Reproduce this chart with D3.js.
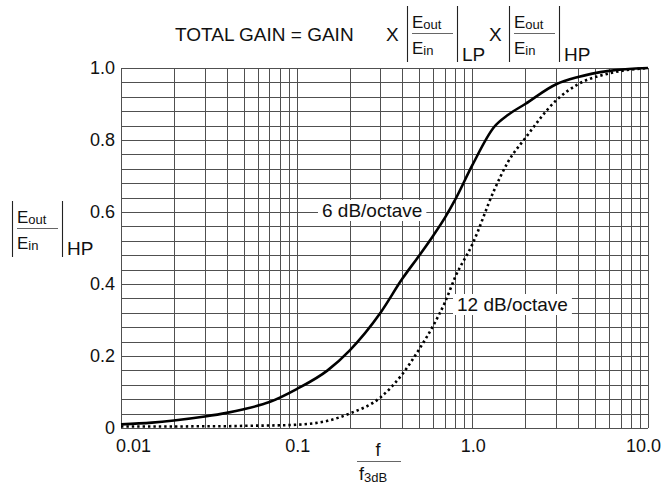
<!DOCTYPE html>
<html lang="en">
<head>
  <meta charset="UTF-8">
  <title>Total gain, high-pass response</title>
  <script src="https://d3js.org/d3.v7.min.js"></script>
  <style>
    body { margin: 0; background: #fff; }
    svg { display: block; font-family: "Liberation Sans", Arial, sans-serif; fill: #111; }
    .grid line { stroke: #505050; stroke-width: 1; shape-rendering: crispEdges; }
    .tick-label { font-size: 18px; }
    .note { font-size: 19px; }
  </style>
</head>
<body>
<svg width="672" height="487"></svg>
<script>
  // values
  const freq   = [0.01, 0.015, 0.02, 0.03, 0.04, 0.05, 0.07, 0.1, 0.15, 0.2, 0.3, 0.4, 0.5, 0.6, 0.7, 0.8, 1.0, 1.33, 1.6, 2, 3, 4, 6, 10];
  const gain6  = [0.01, 0.015, 0.021, 0.032, 0.042, 0.052, 0.072, 0.108, 0.16, 0.215, 0.32, 0.415, 0.48, 0.535, 0.585, 0.635, 0.73, 0.836, 0.87, 0.90, 0.955, 0.975, 0.992, 1.0];
  const gain12 = [0.004, 0.004, 0.004, 0.005, 0.005, 0.006, 0.007, 0.009, 0.02, 0.04, 0.085, 0.15, 0.22, 0.285, 0.35, 0.42, 0.51, 0.66, 0.74, 0.805, 0.91, 0.955, 0.985, 1.0];

  const xTicks = [0.01, 0.1, 1, 10];
  const xTickLabels = ["0.01", "0.1", "1.0", "10.0"];
  const yTicks = [0, 0.2, 0.4, 0.6, 0.8, 1.0];
  const yTickLabels = ["0", "0.2", "0.4", "0.6", "0.8", "1.0"];

  const margin = {top: 68, right: 24, bottom: 59, left: 121};
  const width = 672, height = 487;
  const w = width - margin.left - margin.right;
  const h = height - margin.top - margin.bottom;

  const svg = d3.select("svg");
  const g = svg.append("g").attr("transform", `translate(${margin.left},${margin.top})`);

  const x = d3.scaleLog().domain([0.01, 10]).range([0, w]);
  const y = d3.scaleLinear().domain([0, 1]).range([h, 0]);

  // grid: 1..9 in every decade, and every 0.04 on y
  const xGrid = [];
  [0.01, 0.1, 1].forEach(dec => d3.range(1, 10).forEach(k => xGrid.push(k * dec)));
  xGrid.push(10);
  const yGrid = d3.range(0, 26).map(i => i * 0.04);

  const grid = g.append("g").attr("class", "grid");
  grid.selectAll(".vx").data(xGrid).join("line")
    .attr("x1", d => Math.round(x(d)) + 0.5).attr("x2", d => Math.round(x(d)) + 0.5)
    .attr("y1", 0).attr("y2", h);
  grid.selectAll(".hy").data(yGrid).join("line")
    .attr("y1", d => Math.round(y(d)) + 0.5).attr("y2", d => Math.round(y(d)) + 0.5)
    .attr("x1", 0).attr("x2", w);

  // tick labels (end ones pulled in to stay near the frame)
  const last = xTicks.length - 1;
  g.selectAll(".xl").data(xTicks).join("text")
    .attr("class", "tick-label")
    .attr("x", (d, i) => i === 0 ? x(d) - 5 : i === last ? x(d) + 13 : x(d) + 1)
    .attr("y", h + 24)
    .attr("text-anchor", (d, i) => i === 0 ? "start" : i === last ? "end" : "middle")
    .text((d, i) => xTickLabels[i]);
  g.selectAll(".yl").data(yTicks).join("text")
    .attr("class", "tick-label")
    .attr("x", -6).attr("y", d => y(d) + 6)
    .attr("text-anchor", "end")
    .text((d, i) => yTickLabels[i]);

  // curves
  const line = d3.line().x(d => x(d[0])).y(d => y(d[1])).curve(d3.curveMonotoneX);
  g.append("path")
    .datum(freq.map((f, i) => [f, gain12[i]]))
    .attr("d", line).attr("fill", "none")
    .attr("stroke", "#000").attr("stroke-width", 2.6)
    .attr("stroke-dasharray", "2.4,3");
  g.append("path")
    .datum(freq.map((f, i) => [f, gain6[i]]))
    .attr("d", line).attr("fill", "none")
    .attr("stroke", "#000").attr("stroke-width", 2.6);

  // curve notes with white box behind
  function note(txt, cx, cy) {
    const n = svg.append("g");
    const r = n.append("rect").attr("fill", "#fff");
    const t = n.append("text").attr("class", "note")
      .attr("x", cx).attr("y", cy).text(txt);
    const b = t.node().getBBox();
    r.attr("x", b.x - 4).attr("y", b.y)
      .attr("width", b.width + 8).attr("height", b.height);
  }
  note("6 dB/octave", 322, 217);
  note("12 dB/octave", 457, 311);

  // |Eout/Ein| fraction with a subscript after it
  function fraction(x0, yMid, sub, subDy) {
    const f = svg.append("g").attr("transform", `translate(${x0},${yMid})`);
    f.append("line").attr("x1", 0.5).attr("x2", 0.5).attr("y1", -27).attr("y2", 29)
      .attr("stroke", "#222").attr("stroke-width", 1.1);
    f.append("line").attr("x1", 50.5).attr("x2", 50.5).attr("y1", -27).attr("y2", 29)
      .attr("stroke", "#222").attr("stroke-width", 1.1);
    f.append("line").attr("x1", 5).attr("x2", 46).attr("y1", 0.5).attr("y2", 0.5)
      .attr("stroke", "#666").attr("stroke-width", 1.1);
    const top = f.append("text").attr("x", 5).attr("y", -5).attr("font-size", 17);
    top.append("tspan").text("E");
    top.append("tspan").attr("font-size", 13).attr("dy", 1).text("out");
    const bot = f.append("text").attr("x", 5).attr("y", 21).attr("font-size", 17);
    bot.append("tspan").text("E");
    bot.append("tspan").attr("font-size", 13).attr("dy", 1).text("in");
    f.append("text").attr("x", 55).attr("y", subDy).attr("font-size", 19).text(sub);
  }

  // title
  svg.append("text").attr("x", 175).attr("y", 41).attr("font-size", 19)
    .text("TOTAL GAIN = GAIN");
  svg.append("text").attr("x", 386).attr("y", 41).attr("font-size", 19).text("X");
  fraction(407, 33, "LP", 28);
  svg.append("text").attr("x", 489).attr("y", 41).attr("font-size", 19).text("X");
  fraction(509, 33, "HP", 28);

  // y label
  fraction(12, 228, "HP", 27);

  // x label
  svg.append("text").attr("x", 378).attr("y", 456).attr("font-size", 18)
    .attr("text-anchor", "middle").text("f");
  svg.append("line").attr("x1", 357).attr("x2", 401).attr("y1", 461.5).attr("y2", 461.5)
    .attr("stroke", "#666").attr("stroke-width", 1.1);
  const xl = svg.append("text").attr("x", 359).attr("y", 480).attr("font-size", 18);
  xl.append("tspan").text("f");
  xl.append("tspan").attr("font-size", 13).attr("dy", 2).text("3dB");
</script>
</body>
</html>
